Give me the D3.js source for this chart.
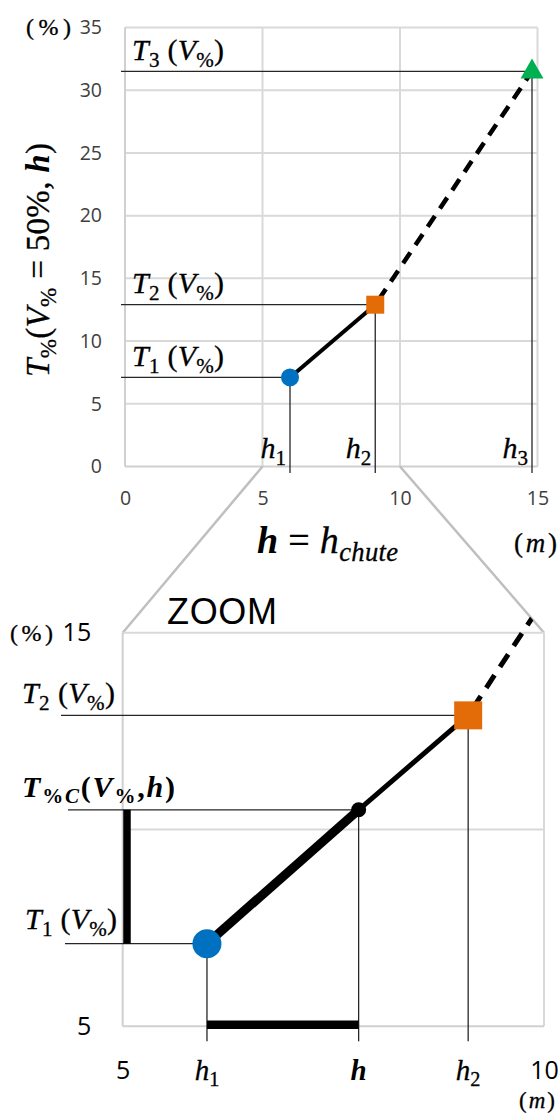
<!DOCTYPE html>
<html>
<head>
<meta charset="utf-8">
<script src="https://cdn.jsdelivr.net/npm/d3@7"></script>
<style>
  body { margin: 0; background: #fff; }
  svg { display: block; }
</style>
</head>
<body>
<script>
  // chute heights (m) and the matching T% values for V% = 50%
  const hValues = [6, 9.1, 14.8];
  const tValues = [7.1, 12.9, 31.5];
  const pointIndex = ["1", "2", "3"];
  // intermediate height read on the zoom
  const hMid = 7.8;
  const tMid = 10.5;

  const topXTicks = [0, 5, 10, 15];
  const topYTicks = [0, 5, 10, 15, 20, 25, 30, 35];
  const zoomXTicks = [5, 10];
  const zoomYTicks = [5, 15];
  const zoomYGrid = [10, 15];

  const W = 558, H = 1113;
  const colors = { blue: "#0070c0", orange: "#e36c09", green: "#00b050", grid: "#d9d9d9", ref: "#262626" };
  const mathFont = "Liberation Serif";
  const tickFont = "Open Sans";

  const svg = d3.select("body").append("svg").attr("width", W).attr("height", H);

  // top chart scales
  const x = d3.scaleLinear().domain([0, 15]).range([125, 537.5]);
  const y = d3.scaleLinear().domain([0, 35]).range([466.5, 27.5]);
  // zoom chart scales
  const xz = d3.scaleLinear().domain([5, 10]).range([122.7, 544]);
  const yz = d3.scaleLinear().domain([5, 15]).range([1026.3, 632.7]);

  // math label made of tspans, subscripts are shifted with dy
  function mathText(g, px, py, parts, size, opts = {}) {
    const t = g.append("text")
      .attr("x", px).attr("y", py)
      .attr("font-family", mathFont)
      .attr("font-size", size)
      .attr("fill", "#000")
      .attr("text-anchor", opts.anchor || "start");
    if (opts.len) t.attr("textLength", opts.len).attr("lengthAdjust", "spacing");
    if (opts.transform) t.attr("transform", opts.transform);
    let shifted = false;
    parts.forEach(p => {
      const s = t.append("tspan").text(p.t)
        .attr("font-style", p.up ? "normal" : "italic")
        .attr("font-weight", p.b ? "bold" : "normal");
      // thicken the thin serif a little, Cambria Math is heavier
      if (!p.b) s.attr("stroke", "#000").attr("stroke-width", 0.3);
      if (p.sub) {
        s.attr("font-size", size * 0.7);
        if (!shifted) { s.attr("dy", size * 0.22); shifted = true; }
      } else if (shifted) {
        s.attr("dy", -size * 0.22); shifted = false;
      }
    });
    return t;
  }

  const tLabel = i => [
    { t: "T" }, { t: pointIndex[i], sub: true, up: true }, { t: " (", up: true },
    { t: "V" }, { t: "%", sub: true, up: true }, { t: ")", up: true }
  ];
  const hLabel = i => [{ t: "h" }, { t: pointIndex[i], sub: true, up: true }];

  // ---------- top chart ----------
  const topG = svg.append("g");

  topG.append("g").selectAll("line").data(topYTicks.slice(1)).join("line")
    .attr("x1", x(0)).attr("x2", x(15))
    .attr("y1", d => y(d)).attr("y2", d => y(d))
    .attr("stroke", colors.grid).attr("stroke-width", 2);
  topG.append("g").selectAll("line").data(topXTicks.slice(1)).join("line")
    .attr("x1", d => x(d)).attr("x2", d => x(d))
    .attr("y1", y(0)).attr("y2", y(35))
    .attr("stroke", colors.grid).attr("stroke-width", 2);
  // axis lines
  topG.append("line").attr("x1", x(0)).attr("x2", x(0)).attr("y1", y(0)).attr("y2", y(35))
    .attr("stroke", "#d0d0d0").attr("stroke-width", 2);
  topG.append("line").attr("x1", x(0)).attr("x2", x(15)).attr("y1", y(0)).attr("y2", y(0))
    .attr("stroke", "#d0d0d0").attr("stroke-width", 2);

  const yAxis = topG.append("g").attr("transform", `translate(${x(0)},0)`)
    .call(d3.axisLeft(y).tickValues(topYTicks).tickSize(0).tickPadding(23));
  const xAxis = topG.append("g").attr("transform", `translate(0,${y(0)})`)
    .call(d3.axisBottom(x).tickValues(topXTicks).tickSize(0).tickPadding(24.5));
  [yAxis, xAxis].forEach(a => {
    a.select(".domain").remove();
    a.selectAll("text").attr("font-family", tickFont).attr("font-size", 19.5).attr("fill", "#404040");
  });

  // zoom connectors
  svg.append("line").attr("x1", x(5)).attr("y1", y(0)).attr("x2", xz(5)).attr("y2", yz(15))
    .attr("stroke", "#bfbfbf").attr("stroke-width", 2.5);
  svg.append("line").attr("x1", x(10)).attr("y1", y(0)).attr("x2", xz(10)).attr("y2", yz(15))
    .attr("stroke", "#bfbfbf").attr("stroke-width", 2.5);

  // reference lines
  hValues.forEach((h, i) => {
    topG.append("line").attr("x1", x(0) - 4).attr("x2", x(h))
      .attr("y1", y(tValues[i])).attr("y2", y(tValues[i]))
      .attr("stroke", colors.ref).attr("stroke-width", 1.3);
    topG.append("line").attr("x1", x(h)).attr("x2", x(h))
      .attr("y1", y(tValues[i])).attr("y2", y(0) + 6.5)
      .attr("stroke", colors.ref).attr("stroke-width", 1.3);
  });

  const line = d3.line().x(d => x(d[0])).y(d => y(d[1]));
  topG.append("path").attr("d", line([[hValues[0], tValues[0]], [hValues[1], tValues[1]]]))
    .attr("fill", "none").attr("stroke", "#000").attr("stroke-width", 4);
  topG.append("path").attr("d", line([[hValues[1], tValues[1]], [hValues[2], tValues[2]]]))
    .attr("fill", "none").attr("stroke", "#000").attr("stroke-width", 4.5)
    .attr("stroke-dasharray", "13,9").attr("stroke-dashoffset", -6);

  topG.append("circle").attr("cx", x(hValues[0])).attr("cy", y(tValues[0])).attr("r", 9)
    .attr("fill", colors.blue);
  topG.append("rect").attr("x", x(hValues[1]) - 9).attr("y", y(tValues[1]) - 9)
    .attr("width", 18).attr("height", 18).attr("fill", colors.orange);
  topG.append("path")
    .attr("transform", `translate(${x(hValues[2])},${y(tValues[2])})`)
    .attr("d", "M0,-13L11.5,7L-11.5,7Z").attr("fill", colors.green);

  hValues.forEach((h, i) => {
    mathText(topG, 132, y(tValues[i]) - 11.5, tLabel(i), 30, { len: 92 });
    mathText(topG, x(h) - 4, 458, hLabel(i), 30, { anchor: "end" });
  });

  mathText(topG, 26, 35, [{ t: "(%)", up: true }], 24, { len: 45 });
  mathText(topG, 514, 552, [{ t: "(", up: true }, { t: "m" }, { t: ")", up: true }], 27, { len: 43 });
  mathText(topG, 257, 553, [
    { t: "h", b: true }, { t: " = ", up: true }, { t: "h" }, { t: "chute", sub: true }
  ], 38, { len: 141 });
  mathText(topG, 0, 0, [
    { t: "T" }, { t: "%", sub: true, up: true }, { t: "(", up: true }, { t: "V" },
    { t: "%", sub: true, up: true }, { t: " = 50%, ", up: true }, { t: "h", b: true }, { t: ")", up: true }
  ], 33, { anchor: "middle", len: 234, transform: "translate(49,260) rotate(-90)" });

  // ---------- zoom chart ----------
  const zoomG = svg.append("g");

  zoomG.append("g").selectAll("line").data(zoomYGrid).join("line")
    .attr("x1", xz(5)).attr("x2", xz(10))
    .attr("y1", d => yz(d)).attr("y2", d => yz(d))
    .attr("stroke", colors.grid).attr("stroke-width", 2);
  zoomG.append("line").attr("x1", xz(10)).attr("x2", xz(10)).attr("y1", yz(5)).attr("y2", yz(15))
    .attr("stroke", colors.grid).attr("stroke-width", 2);
  zoomG.append("line").attr("x1", xz(5)).attr("x2", xz(5)).attr("y1", yz(5)).attr("y2", yz(15))
    .attr("stroke", "#d0d0d0").attr("stroke-width", 2);
  zoomG.append("line").attr("x1", xz(5)).attr("x2", xz(10)).attr("y1", yz(5)).attr("y2", yz(5))
    .attr("stroke", "#d0d0d0").attr("stroke-width", 2);

  const yzAxis = zoomG.append("g").attr("transform", `translate(${xz(5)},0)`)
    .call(d3.axisLeft(yz).tickValues(zoomYTicks).tickFormat(d3.format("d")).tickSize(0).tickPadding(31.5));
  const xzAxis = zoomG.append("g").attr("transform", `translate(0,${yz(5)})`)
    .call(d3.axisBottom(xz).tickValues(zoomXTicks).tickFormat(d3.format("d")).tickSize(0).tickPadding(35));
  [yzAxis, xzAxis].forEach(a => {
    a.select(".domain").remove();
    a.selectAll("text").attr("font-family", tickFont).attr("font-size", 25).attr("fill", "#000");
  });

  zoomG.append("text").attr("x", 167).attr("y", 623.5)
    .attr("font-family", "Liberation Sans").attr("font-size", 36).attr("fill", "#000")
    .attr("textLength", 110).text("ZOOM");

  // reference lines in the zoom
  const zPts = [
    { h: hValues[0], t: tValues[0], x0: 65 },
    { h: hMid, t: tMid, x0: 68 },
    { h: hValues[1], t: tValues[1], x0: 61 }
  ];
  zPts.forEach(p => {
    zoomG.append("line").attr("x1", p.x0).attr("x2", xz(p.h))
      .attr("y1", yz(p.t)).attr("y2", yz(p.t))
      .attr("stroke", colors.ref).attr("stroke-width", 1.3);
    zoomG.append("line").attr("x1", xz(p.h)).attr("x2", xz(p.h))
      .attr("y1", yz(p.t)).attr("y2", yz(5) + 15)
      .attr("stroke", colors.ref).attr("stroke-width", 1.3);
  });

  // thick bars marking the interval
  zoomG.append("line").attr("x1", xz(5) + 4.3).attr("x2", xz(5) + 4.3)
    .attr("y1", yz(tMid)).attr("y2", yz(tValues[0]))
    .attr("stroke", "#000").attr("stroke-width", 7.5);
  zoomG.append("line").attr("x1", xz(hValues[0])).attr("x2", xz(hMid))
    .attr("y1", yz(5) - 1.6).attr("y2", yz(5) - 1.6)
    .attr("stroke", "#000").attr("stroke-width", 8.5);

  svg.append("clipPath").attr("id", "zoomClip").append("polygon")
    .attr("points", [[x(5), y(0)], [x(10), y(0)], [xz(10), yz(15)], [xz(10), yz(5)], [xz(5), yz(5)], [xz(5), yz(15)]]
      .map(p => p.join(",")).join(" "));

  const zline = d3.line().x(d => xz(d[0])).y(d => yz(d[1]));
  zoomG.append("path").attr("d", zline([[hValues[0], tValues[0]], [hMid, tMid]]))
    .attr("fill", "none").attr("stroke", "#000").attr("stroke-width", 9);
  zoomG.append("path").attr("d", zline([[hMid, tMid], [hValues[1], tValues[1]]]))
    .attr("fill", "none").attr("stroke", "#000").attr("stroke-width", 5);
  zoomG.append("path").attr("d", zline([[hValues[1], tValues[1]], [hValues[2], tValues[2]]]))
    .attr("clip-path", "url(#zoomClip)")
    .attr("fill", "none").attr("stroke", "#000").attr("stroke-width", 5)
    .attr("stroke-dasharray", "15,10").attr("stroke-dashoffset", -8);

  zoomG.append("circle").attr("cx", xz(hValues[0])).attr("cy", yz(tValues[0])).attr("r", 14.5)
    .attr("fill", colors.blue);
  zoomG.append("circle").attr("cx", xz(hMid)).attr("cy", yz(tMid)).attr("r", 7.5).attr("fill", "#000");
  zoomG.append("rect").attr("x", xz(hValues[1]) - 14).attr("y", yz(tValues[1]) - 14)
    .attr("width", 28).attr("height", 28).attr("fill", colors.orange);

  mathText(zoomG, 22, yz(tValues[1]) - 12, tLabel(1), 30, { len: 93 });
  mathText(zoomG, 25, yz(tValues[0]) - 14.5, tLabel(0), 30, { len: 92 });
  mathText(zoomG, 22, yz(tMid) - 13, [
    { t: "T", b: true }, { t: "%", sub: true, up: true, b: true }, { t: "C", sub: true, b: true },
    { t: "(", up: true, b: true }, { t: "V", b: true }, { t: "%", sub: true, up: true, b: true },
    { t: ",", up: true, b: true }, { t: "h", b: true }, { t: ")", up: true, b: true }
  ], 30, { len: 153 });

  mathText(zoomG, xz(hValues[0]), 1080, hLabel(0), 29, { anchor: "middle" });
  mathText(zoomG, xz(hMid), 1080, [{ t: "h", b: true }], 29, { anchor: "middle" });
  mathText(zoomG, xz(hValues[1]), 1080, hLabel(1), 29, { anchor: "middle" });

  mathText(zoomG, 10, 641, [{ t: "(%)", up: true }], 24, { len: 43 });
  mathText(zoomG, 519, 1108, [{ t: "(", up: true }, { t: "m" }, { t: ")", up: true }], 23, { len: 36 });
</script>
</body>
</html>
